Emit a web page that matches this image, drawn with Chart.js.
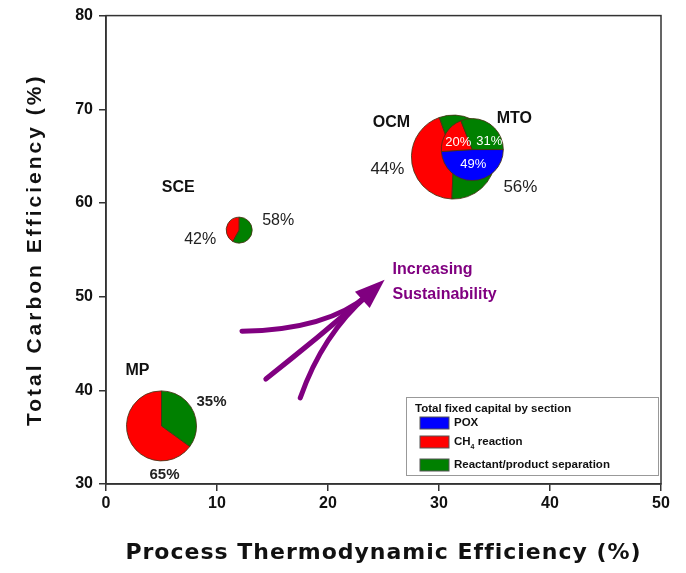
<!DOCTYPE html>
<html>
<head>
<meta charset="utf-8">
<script src="https://cdn.jsdelivr.net/npm/chart.js@4/dist/chart.umd.min.js"></script>
<style>
  html, body { margin: 0; padding: 0; background: #fff; }
  #wrap { width: 686px; height: 573px; }
</style>
</head>
<body>
<div id="wrap"><canvas id="chart" width="686" height="573"></canvas></div>
<script>
// processes and where they sit
const processes = ['MP', 'SCE', 'OCM', 'MTO'];
const thermoEff = [5, 12, 31.3, 33];       // Process Thermodynamic Efficiency (%)
const carbonEff = [36.2, 57.1, 64.9, 65.7]; // Total Carbon Efficiency (%)
const bubbleR = [35, 13, 42, 31];          // relative total fixed capital (bubble radius)

// fixed capital split, in order of sections
const sections = ['POX', 'CH4 reaction', 'Reactant/product separation'];
const sectionColors = ['#0000ff', '#ff0000', '#008000'];
const shares = [
  [0, 65, 35],   // MP
  [0, 42, 58],   // SCE
  [0, 44, 56],   // OCM
  [49, 20, 31]   // MTO
];

const xTicks = [0, 10, 20, 30, 40, 50];
const yTicks = [30, 40, 50, 60, 70, 80];
const xTitle = 'Process Thermodynamic Efficiency (%)';
const yTitle = 'Total Carbon Efficiency (%)';

// where each pie begins, clockwise from 12 o'clock (deg)
const pieStart = [126, 209, 182, 90];

// labels around pies: [dx, dy, text, bold, size, color]
const pieLabels = [
  [[-24, -55, 'MP', true, 16, '#111'], [50, -24, '35%', true, 15, '#222'], [3, 49, '65%', true, 15, '#222']],
  [[-61, -43, 'SCE', true, 16, '#111'], [-39, 9, '42%', false, 16, '#222'], [39, -10, '58%', false, 16, '#222']],
  [[-62, -34, 'OCM', true, 16, '#111'], [-66, 12, '44%', false, 17, '#222'], [67, 30, '56%', false, 17, '#222']],
  [[42, -31, 'MTO', true, 16, '#111'], [-14, -7, '20%', false, 13, '#fff'], [17, -8, '31%', false, 13, '#fff'], [1, 15, '49%', false, 13, '#fff']]
];

// "Increasing Sustainability" arrow strokes, in data units: start, control, end
const arrowTip = [25.1, 51.8];
const arrowStrokes = [
  [[12.25, 46.3], [20, 46.5], [23.6, 50.2]],
  [[14.4, 41.2], [19, 45.5], [23.6, 50.2]],
  [[17.5, 39.2], [19.5, 46], [23.6, 50.2]]
];

const purple = '#800080';
const axisColor = '#333';

const piePlugin = {
  id: 'pies',
  afterDatasetsDraw(chart) {
    const ctx = chart.ctx;
    const xs = chart.scales.x, ys = chart.scales.y;
    const area = chart.chartArea;

    // frame
    ctx.save();
    ctx.strokeStyle = axisColor;
    ctx.lineWidth = 1.5;
    ctx.strokeRect(area.left, area.top, area.right - area.left, area.bottom - area.top);
    ctx.restore();

    // axis titles (letter-spaced like the original)
    ctx.save();
    ctx.fillStyle = '#111';
    ctx.textAlign = 'center';
    ctx.textBaseline = 'middle';
    ctx.font = 'bold 22px "DejaVu Sans", Verdana, sans-serif';
    if ('letterSpacing' in ctx) ctx.letterSpacing = '1px';
    ctx.fillText(xTitle, (area.left + area.right) / 2, 553);
    ctx.translate(35, (area.top + area.bottom) / 2);
    ctx.rotate(-Math.PI / 2);
    ctx.font = 'bold 21px "Liberation Sans", Arial, sans-serif';
    if ('letterSpacing' in ctx) ctx.letterSpacing = '3px';
    ctx.fillText(yTitle, 0, 0);
    ctx.restore();

    // arrows
    ctx.save();
    ctx.strokeStyle = purple;
    ctx.fillStyle = purple;
    ctx.lineWidth = 5;
    ctx.lineCap = 'round';
    arrowStrokes.forEach(s => {
      ctx.beginPath();
      ctx.moveTo(xs.getPixelForValue(s[0][0]), ys.getPixelForValue(s[0][1]));
      ctx.quadraticCurveTo(xs.getPixelForValue(s[1][0]), ys.getPixelForValue(s[1][1]),
        xs.getPixelForValue(s[2][0]), ys.getPixelForValue(s[2][1]));
      ctx.stroke();
    });
    const tx = xs.getPixelForValue(arrowTip[0]), ty = ys.getPixelForValue(arrowTip[1]);
    const ang = Math.atan2(ty - ys.getPixelForValue(50.2), tx - xs.getPixelForValue(23.6));
    ctx.beginPath();
    ctx.moveTo(tx, ty);
    ctx.lineTo(tx - 30 * Math.cos(ang) + 11 * Math.sin(ang), ty - 30 * Math.sin(ang) - 11 * Math.cos(ang));
    ctx.lineTo(tx - 30 * Math.cos(ang) - 11 * Math.sin(ang), ty - 30 * Math.sin(ang) + 11 * Math.cos(ang));
    ctx.closePath();
    ctx.fill();
    ctx.font = 'bold 16px "Liberation Sans", Arial, sans-serif';
    ctx.textBaseline = 'middle';
    ctx.fillText('Increasing', tx + 8, ty - 10);
    ctx.fillText('Sustainability', tx + 8, ty + 15);
    ctx.restore();

    // pies
    const meta = chart.getDatasetMeta(0);
    meta.data.forEach((pt, i) => {
      const cx = pt.x, cy = pt.y, r = bubbleR[i];
      const total = shares[i].reduce((a, b) => a + b, 0);
      let a0 = (pieStart[i] - 90) * Math.PI / 180;
      ctx.save();
      shares[i].forEach((v, k) => {
        if (!v) return;
        const a1 = a0 + v / total * Math.PI * 2;
        ctx.beginPath();
        ctx.moveTo(cx, cy);
        ctx.arc(cx, cy, r, a0, a1);
        ctx.closePath();
        ctx.fillStyle = sectionColors[k];
        ctx.fill();
        ctx.strokeStyle = 'rgba(70,50,20,0.85)';
        ctx.lineWidth = 1;
        ctx.stroke();
        a0 = a1;
      });
      ctx.textAlign = 'center';
      ctx.textBaseline = 'middle';
      pieLabels[i].forEach(l => {
        ctx.font = (l[3] ? 'bold ' : '') + l[4] + 'px "Liberation Sans", Arial, sans-serif';
        ctx.fillStyle = l[5];
        ctx.fillText(l[2], cx + l[0], cy + l[1]);
      });
      ctx.restore();
    });

    // legend box
    ctx.save();
    const lx = area.right - 255, ly = area.bottom - 87;
    ctx.fillStyle = '#fff';
    ctx.fillRect(lx, ly, 252, 78);
    ctx.strokeStyle = '#999';
    ctx.lineWidth = 1;
    ctx.strokeRect(lx + 0.5, ly + 0.5, 252, 78);
    ctx.fillStyle = '#111';
    ctx.font = 'bold 11.5px "Liberation Sans", Arial, sans-serif';
    ctx.textBaseline = 'middle';
    ctx.fillText('Total fixed capital by section', lx + 9, ly + 12);
    const rowY = [26, 45, 68];
    sections.forEach((s, k) => {
      ctx.fillStyle = sectionColors[k];
      ctx.fillRect(lx + 14, ly + rowY[k] - 6, 29, 12);
      ctx.strokeStyle = '#555';
      ctx.strokeRect(lx + 14, ly + rowY[k] - 6, 29, 12);
      ctx.fillStyle = '#111';
      ctx.font = 'bold 11.5px "Liberation Sans", Arial, sans-serif';
      if (s.indexOf('CH4') === 0) {
        ctx.fillText('CH', lx + 48, ly + rowY[k]);
        const w = ctx.measureText('CH').width;
        ctx.font = 'bold 7px "Liberation Sans", Arial, sans-serif';
        ctx.fillText('4', lx + 48 + w, ly + rowY[k] + 5);
        ctx.font = 'bold 11.5px "Liberation Sans", Arial, sans-serif';
        ctx.fillText(s.slice(3), lx + 48 + w + 4, ly + rowY[k]);
      } else {
        ctx.fillText(s, lx + 48, ly + rowY[k]);
      }
    });
    ctx.restore();
  }
};

new Chart(document.getElementById('chart'), {
  type: 'bubble',
  data: {
    datasets: [{
      data: processes.map((p, i) => ({ x: thermoEff[i], y: carbonEff[i], r: bubbleR[i] })),
      backgroundColor: 'rgba(0,0,0,0)',
      borderWidth: 0
    }]
  },
  options: {
    responsive: false,
    animation: false,
    events: [],
    layout: { autoPadding: false, padding: { top: 15, right: 25, left: 0, bottom: 0 } },
    plugins: { legend: { display: false }, tooltip: { enabled: false } },
    scales: {
      x: {
        type: 'linear', min: xTicks[0], max: xTicks[xTicks.length - 1],
        afterBuildTicks: s => { s.ticks = xTicks.map(v => ({ value: v })); },
        afterFit: s => { s.height = 89; },
        grid: { drawOnChartArea: false, drawTicks: true, tickLength: 7, color: axisColor, lineWidth: 1.5 },
        border: { display: true, color: axisColor, width: 1.5 },
        ticks: { color: '#111', padding: 3, font: { family: '"Liberation Sans", Arial, sans-serif', size: 16, weight: 'bold' } },
        title: { display: false, text: xTitle }
      },
      y: {
        type: 'linear', min: yTicks[0], max: yTicks[yTicks.length - 1],
        afterBuildTicks: s => { s.ticks = yTicks.map(v => ({ value: v })); },
        afterFit: s => { s.width = 106; },
        grid: { drawOnChartArea: false, drawTicks: true, tickLength: 7, color: axisColor, lineWidth: 1.5 },
        border: { display: true, color: axisColor, width: 1.5 },
        ticks: { color: '#111', padding: 6, font: { family: '"Liberation Sans", Arial, sans-serif', size: 16, weight: 'bold' } },
        title: { display: false, text: yTitle }
      }
    }
  },
  plugins: [piePlugin]
});
</script>
</body>
</html>
